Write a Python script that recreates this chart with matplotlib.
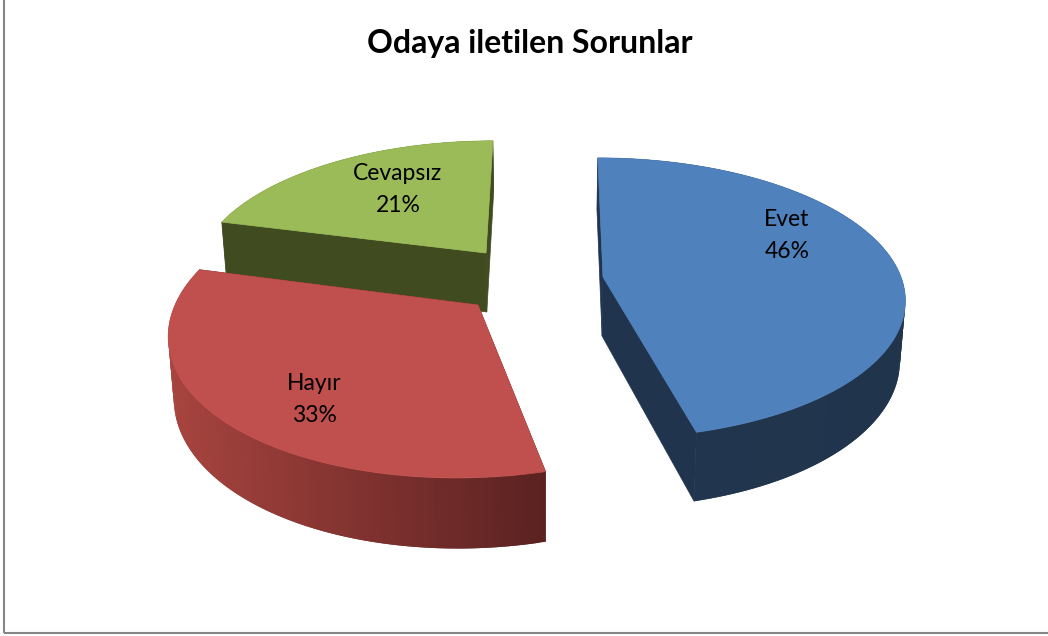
import numpy as np
import matplotlib
matplotlib.use("Agg")
import matplotlib.pyplot as plt
from matplotlib.patches import Polygon

title = "Odaya iletilen Sorunlar"
labels = ["Evet", "Hayır", "Cevapsız"]
values = [46, 33, 21]

top_colors = ["#4F81BD", "#C0504D", "#9BBB59"]
wall_left = ["#22374F", "#A8443F", "#414B20"]
wall_right = ["#20344C", "#5B2221", "#414B20"]
side_colors = ["#20344E", "#5B2221", "#414B20"]

# layout of each exploded slice, in pixels: apex, radius, depth scale, shear, height
apex = [(603, 277), (478, 305), (486, 253)]
radius = [298, 303, 285]
depth = [137, 147, 129]
shear = [0.02, -0.06, -0.028]
height = [59, 60, 59]
label_pos = [(787, 236), (314, 399), (398, 190)]
line_gap = 16
persp = 0.15
vanish_x = 540


def project(i, t, r=1.0, z=0.0):
    # t is clockwise from 12 o'clock
    x = r * np.sin(t)
    v = -r * np.cos(t)
    d = 1 - persp * v
    sx = apex[i][0] + radius[i] * (x + shear[i] * v) / d
    sy = apex[i][1] + depth[i] * v / d
    sx = vanish_x + (sx - vanish_x) * (1 - 0.015 * z)
    sy = sy + z * height[i] / d
    return sx, sy


def lerp_color(c1, c2, f):
    a = np.array(matplotlib.colors.to_rgb(c1))
    b = np.array(matplotlib.colors.to_rgb(c2))
    return tuple(a + (b - a) * f)


fig = plt.figure(figsize=(10.48, 6.36), dpi=100)
ax = fig.add_axes([0, 0, 1, 1])
ax.set_xlim(0, 1048)
ax.set_ylim(636, 0)
ax.axis("off")

ax.plot([3.5, 3.5], [0, 632.5], color="#868686", lw=1.5, solid_capstyle="butt")
ax.plot([3.5, 1048], [632.5, 632.5], color="#868686", lw=1.5, solid_capstyle="butt")

fracs = np.array(values) / sum(values)
starts = np.concatenate([[0], np.cumsum(fracs)[:-1]]) * 2 * np.pi
ends = np.cumsum(fracs) * 2 * np.pi

for i in [2, 1, 0]:
    t = np.linspace(starts[i], ends[i], 120)

    # flat cut faces
    for edge in [starts[i], ends[i]]:
        a0 = project(i, edge, 0.0, 0.0)
        a1 = project(i, edge, 1.0, 0.0)
        b1 = project(i, edge, 1.0, 1.0)
        b0 = project(i, edge, 0.0, 1.0)
        ax.add_patch(Polygon([a0, a1, b1, b0], closed=True, fc=side_colors[i], ec=side_colors[i], lw=0.5))

    # outer wall, strips overlap by one step so no seams show
    sx_all = project(i, t)[0]
    for k in range(len(t) - 1):
        k2 = min(k + 2, len(t) - 1)
        p1 = project(i, t[k], 1.0, 0.0)
        p2 = project(i, t[k2], 1.0, 0.0)
        p3 = project(i, t[k2], 1.0, 1.0)
        p4 = project(i, t[k], 1.0, 1.0)
        f = (p1[0] - sx_all.min()) / (sx_all.max() - sx_all.min())
        c = lerp_color(wall_left[i], wall_right[i], f)
        ax.add_patch(Polygon([p1, p2, p3, p4], closed=True, fc=c, ec="none"))

    # top face
    xs, ys = project(i, t)
    ap = project(i, t[0], 0.0)
    pts = [ap] + list(zip(xs, ys))
    ax.add_patch(Polygon(pts, closed=True, fc=top_colors[i], ec=top_colors[i], lw=0.5))

    ax.text(label_pos[i][0], label_pos[i][1] - line_gap, labels[i],
            ha="center", va="center", fontsize=16.5, family="Lato", color="black")
    ax.text(label_pos[i][0], label_pos[i][1] + line_gap, f"{values[i]}%",
            ha="center", va="center", fontsize=16.5, family="Lato", color="black")

ax.text(530, 44, title, ha="center", va="center", fontsize=23, family="Lato", fontweight="bold", color="black")

fig.savefig("out.png", dpi=100)
